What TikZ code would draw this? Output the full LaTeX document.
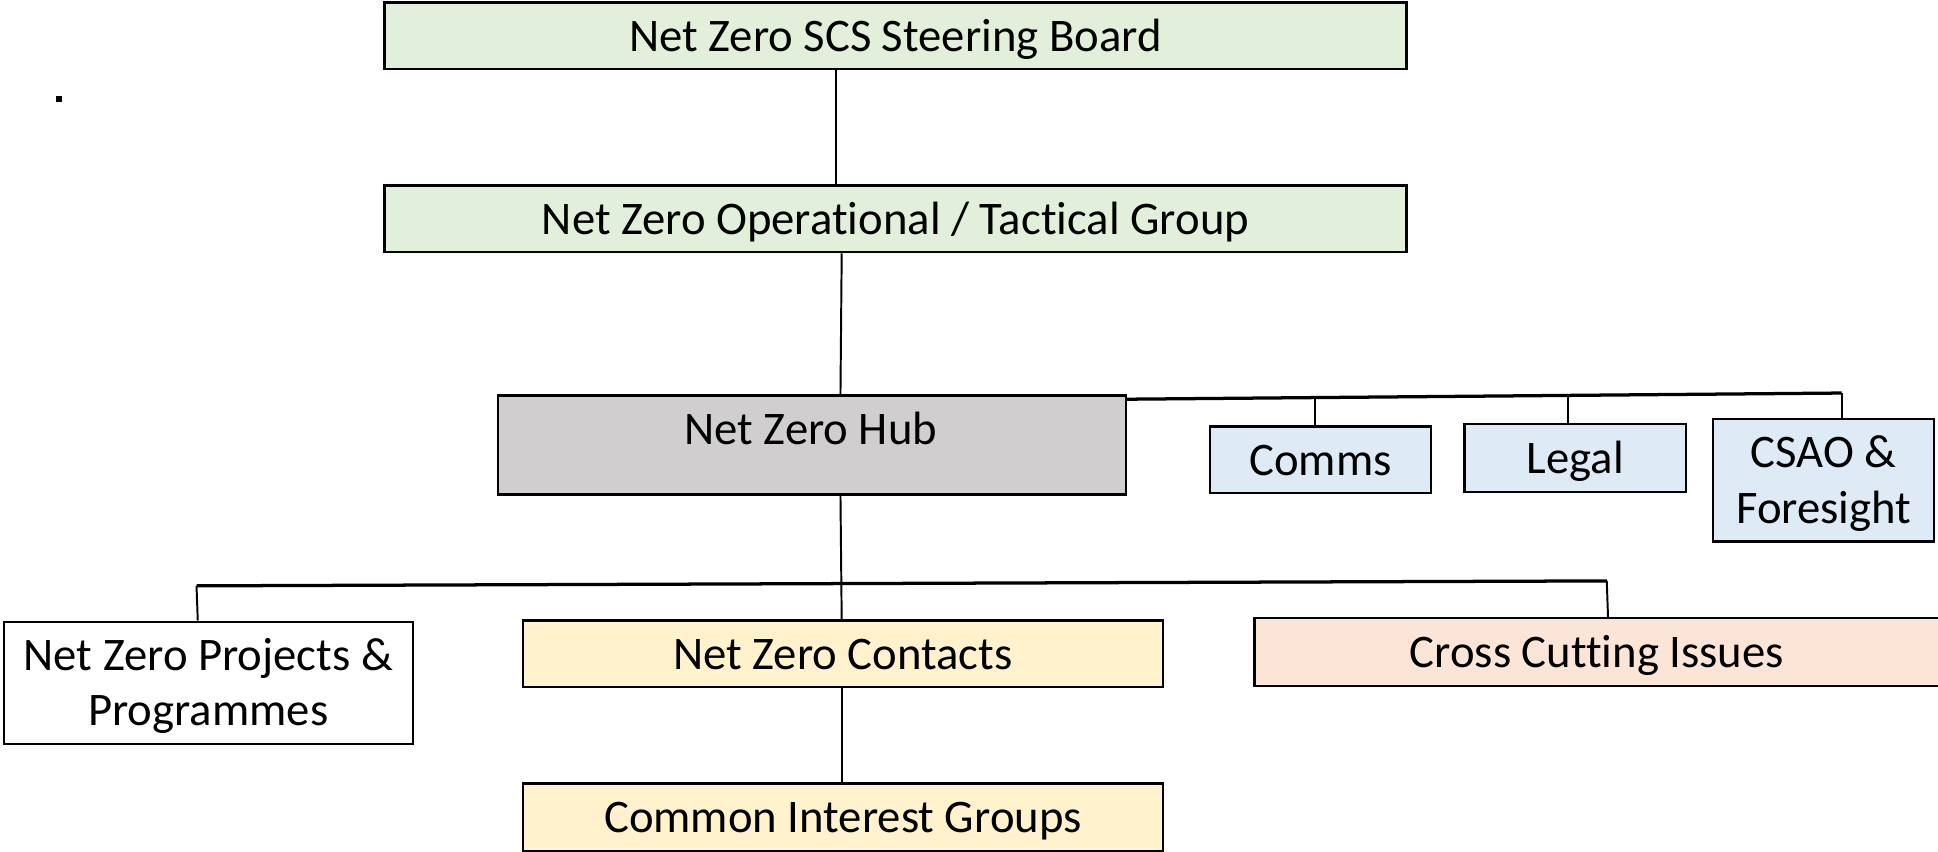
\documentclass[tikz,border=0pt]{standalone}
\usepackage{fontspec}
\setmainfont{Carlito}[Ligatures=NoCommon]
\definecolor{cgreen}{HTML}{E2EFDA}
\definecolor{cgrey}{HTML}{D0CECE}
\definecolor{cblue}{HTML}{DEEBF7}
\definecolor{cyellow}{HTML}{FFF2CC}
\definecolor{cpeach}{HTML}{FBE5D6}
\begin{document}
\begin{tikzpicture}[x=0.02cm,y=-0.02cm,
  box/.style={draw=black, line width=1.1pt, inner sep=0pt, align=center,
    text height=14.2pt, text depth=0pt,
    font=\fontsize{21.5}{25.5}\selectfont},
  twoline/.style={text height=39.7pt, text depth=0pt},
  txt/.style={inner sep=0pt, font=\fontsize{21.5}{25.5}\selectfont},
  conn/.style={draw=black, line width=0.9pt},
  bus/.style={draw=black, line width=1.5pt}]
\useasboundingbox (0,0) rectangle (1568,689);

% boxes
\node[box, fill=cgreen, minimum width=16.54cm, minimum height=1.08cm] (top) at (724.5,29) {Net Zero SCS Steering Board};
\node[box, fill=cgreen, minimum width=16.54cm, minimum height=1.08cm] (op) at (724.5,177) {Net Zero Operational / Tactical Group};
\node[box, fill=cgrey, minimum width=10.16cm, minimum height=1.6cm] (hub) at (657,360) {};
\node[txt, anchor=base] (hubtext) at (656,360) {Net Zero Hub};
\node[box, fill=cblue, minimum width=3.58cm, minimum height=1.08cm] (comms) at (1068.5,372) {Comms};
\node[box, fill=cblue, minimum width=3.58cm, minimum height=1.10cm] (legal) at (1274.5,370.5) {Legal};
\node[box, twoline, fill=cblue, minimum width=3.58cm, minimum height=1.98cm] (csao) at (1475.5,388.5) {CSAO \&\\Foresight};
\node[box, twoline, fill=white, minimum width=6.62cm, minimum height=1.98cm] (proj) at (168.5,552.5) {Net Zero Projects \&\\Programmes};
\node[box, fill=cyellow, minimum width=10.36cm, minimum height=1.08cm] (contacts) at (682,529) {Net Zero Contacts};
\node[box, fill=cpeach, minimum width=11.08cm, minimum height=1.10cm] (cross) at (1292,527.5) {Cross Cutting Issues};
\node[box, fill=cyellow, minimum width=10.36cm, minimum height=1.09cm] (cig) at (682,661.25) {Common Interest Groups};
\node[fill=black, inner sep=0pt, minimum width=0.1cm, minimum height=0.09cm] (dot) at (47.7,80) {};

% helper coordinates
\coordinate (x676) at (676,0);
\coordinate (x680) at (680,0);
\coordinate (x681) at (681,0);
\coordinate (hubR) at (911,323);
\coordinate (busR) at (1490,318);
\coordinate (tComms) at (1064,321.7);
\coordinate (tLegal) at (1269,319.9);
\coordinate (busL) at (159,474);
\coordinate (busE) at (1300,470);

% vertical connectors
\draw[conn] (top.south -| x676) -- (op.north -| x676);
\draw[conn] (op.south -| x681) -- (hub.north -| x680);
\draw[conn] (hub.south -| x680) -- (contacts.north -| x681);
\draw[conn] (contacts.south -| x681) -- (cig.north -| x681);

% right bus
\draw[bus] (hubR) -- (busR);
\draw[conn] (tComms) -- (comms.north -| tComms);
\draw[conn] (tLegal) -- (legal.north -| tLegal);
\draw[conn] (busR) -- (csao.north -| busR);

% lower bus
\draw[bus] (busL) -- (busE);
\draw[conn] (busL) -- ([xshift=0.02cm]proj.north -| busL);
\draw[conn] (busE) -- ([xshift=0.02cm]cross.north -| busE);
\end{tikzpicture}
\end{document}
